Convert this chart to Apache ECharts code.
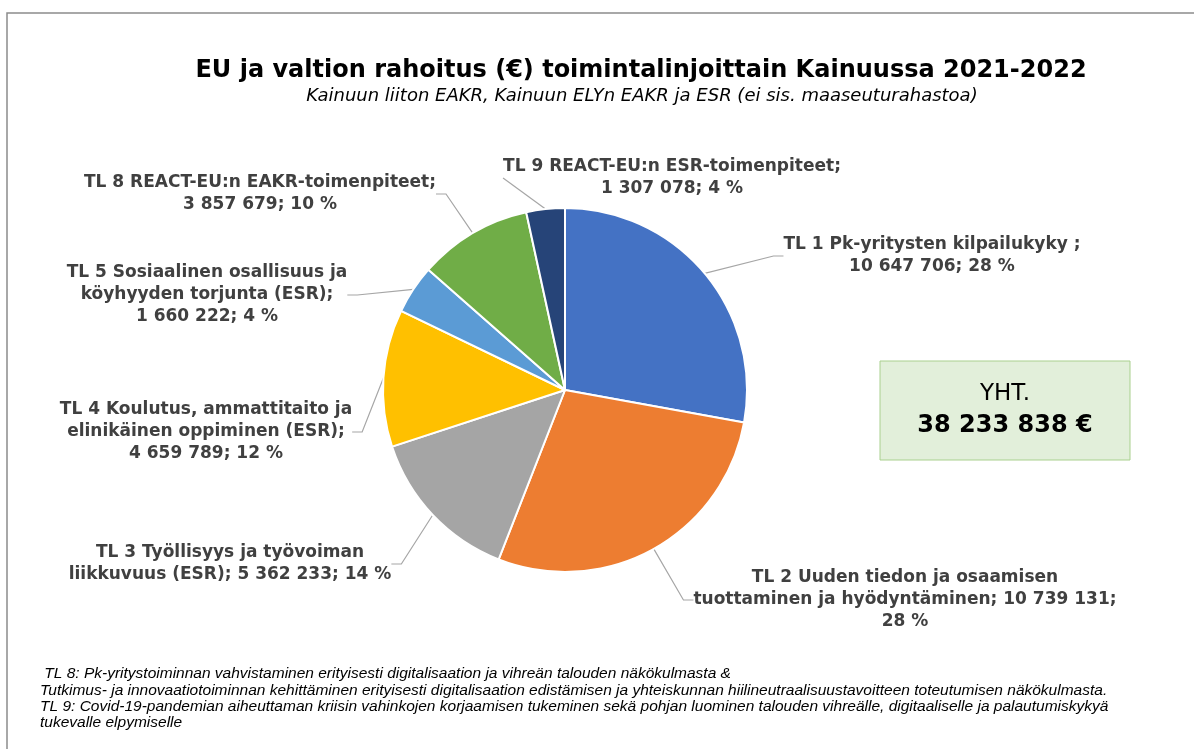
<!DOCTYPE html>
<html>
<head>
<meta charset="utf-8">
<script src="https://cdn.jsdelivr.net/npm/echarts@6/dist/echarts.min.js"></script>
<style>
    html, body { margin: 0; padding: 0; background: #fff; }
    #chart { width: 1194px; height: 749px; }
</style>
</head>
<body>
<div id="chart"></div>
<script>
    // data
    const names = [
        'TL 1 Pk-yritysten kilpailukyky ',
        'TL 2 Uuden tiedon ja osaamisen\ntuottaminen ja hyödyntäminen',
        'TL 3 Työllisyys ja työvoiman\nliikkuvuus (ESR)',
        'TL 4 Koulutus, ammattitaito ja\nelinikäinen oppiminen (ESR)',
        'TL 5 Sosiaalinen osallisuus ja\nköyhyyden torjunta (ESR)',
        'TL 8 REACT-EU:n EAKR-toimenpiteet',
        'TL 9 REACT-EU:n ESR-toimenpiteet'
    ]
    const values = [10647706, 10739131, 5362233, 4659789, 1660222, 3857679, 1307078]
    const colors = ['#4472c4', '#ed7d31', '#a5a5a5', '#ffc000', '#5b9bd5', '#70ad47', '#264478']
    // how each label wraps: after the name, after the value
    const sepAfterName = ['\n', ' ', ' ', '\n', '\n', '\n', '\n']
    const sepAfterValue = [' ', '\n', ' ', ' ', ' ', ' ', ' ']
    // label centre points
    const labelPos = [[932, 256], [905, 600], [230, 564], [206, 432], [207, 295], [260, 194], [672, 178]]

    const titleText = 'EU ja valtion rahoitus (€) toimintalinjoittain Kainuussa 2021-2022'
    const subtitleText = 'Kainuun liiton EAKR, Kainuun ELYn EAKR ja ESR (ei sis. maaseuturahastoa)'
    const totalLabel = 'YHT.'
    const totalText = '38 233 838 €'
    const notes = [
        ' TL 8: Pk-yritystoiminnan vahvistaminen erityisesti digitalisaation ja vihreän talouden näkökulmasta &',
        'Tutkimus- ja innovaatiotoiminnan kehittäminen erityisesti digitalisaation edistämisen ja yhteiskunnan hiilineutraalisuustavoitteen toteutumisen näkökulmasta.',
        'TL 9: Covid-19-pandemian aiheuttaman kriisin vahinkojen korjaamisen tukeminen sekä pohjan luominen talouden vihreälle, digitaaliselle ja palautumiskykyä',
        'tukevalle elpymiselle'
    ]

    function fmt(n) {
        return String(n).replace(/\B(?=(\d{3})+(?!\d))/g, ' ')
    }

    function txt(x, y, text, font, fill, align) {
        return {
            type: 'text', x: x, y: y, silent: true,
            style: {
                text: text, font: font, fill: fill,
                align: align || 'center', textAlign: align || 'center',
                verticalAlign: 'middle', textVerticalAlign: 'middle'
            }
        }
    }

    const graphics = [
        {type: 'rect', shape: {x: 7, y: 13, width: 1200, height: 760}, style: {fill: 'none', stroke: '#8c8c8c', lineWidth: 1.5}, silent: true},
        txt(641, 71, titleText, 'bold 24px "DejaVu Sans"', '#000'),
        txt(642, 96, subtitleText, 'italic 18px "DejaVu Sans"', '#000'),
        {type: 'rect', shape: {x: 880, y: 361, width: 250, height: 99}, style: {fill: '#e2efda', stroke: '#a9d08e', lineWidth: 1}, silent: true},
        txt(1005, 394, totalLabel, '23px "DejaVu Sans"', '#000'),
        txt(1005, 426, totalText, 'bold 24px "DejaVu Sans"', '#000')
    ]
    const noteY = [674, 691, 707, 723]
    notes.forEach((line, i) => {
        graphics.push(txt(40, noteY[i], line, 'italic 15.5px "Liberation Sans"', '#000', 'left'))
    })

    const myChart = echarts.init(document.getElementById('chart'))
    myChart.setOption({
        animation: false,
        color: colors,
        graphic: graphics,
        series: [
            {
                type: 'pie',
                center: [565, 390],
                radius: 182,
                startAngle: 90,
                clockwise: true,
                avoidLabelOverlap: false,
                percentPrecision: 0,
                itemStyle: {borderColor: '#fff', borderWidth: 2},
                label: {
                    show: true,
                    position: 'outside',
                    color: '#404040',
                    fontFamily: 'DejaVu Sans',
                    fontWeight: 'bold',
                    fontSize: 17,
                    lineHeight: 22,
                    align: 'center',
                    formatter: p => p.name + ';' + sepAfterName[p.dataIndex] + fmt(p.value) + ';' +
                        sepAfterValue[p.dataIndex] + p.percent + ' %'
                },
                labelLine: {
                    show: true,
                    length: 12,
                    length2: 10,
                    lineStyle: {color: '#a6a6a6', width: 1.2}
                },
                labelLayout: params => ({
                    x: labelPos[params.dataIndex][0],
                    y: labelPos[params.dataIndex][1],
                    align: 'center',
                    verticalAlign: 'middle'
                }),
                data: names.map((n, i) => ({name: n, value: values[i]}))
            }
        ]
    })
</script>
</body>
</html>
